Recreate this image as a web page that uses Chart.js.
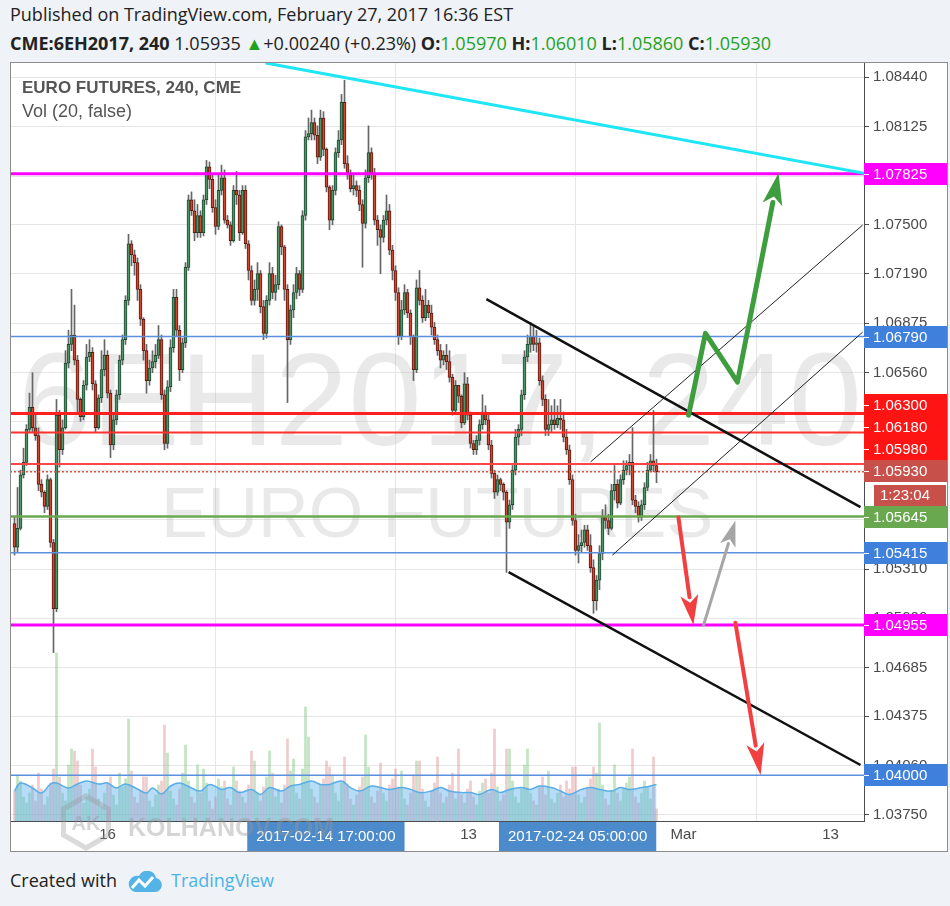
<!DOCTYPE html>
<html>
<head>
<meta charset="utf-8">
<script src="https://cdn.jsdelivr.net/npm/chart.js@4.4.0/dist/chart.umd.min.js"></script>
<style>
  html, body { margin: 0; padding: 0; width: 950px; height: 906px; overflow: hidden; background: #eff2f6; font-family: "Open Sans", Arial, sans-serif; }
  .hdr { position: absolute; left: 10px; font-size: 18px; color: #222; white-space: nowrap; }
  .g { color: #1fa21f; }
  #wrap { position: absolute; left: 10px; top: 62px; width: 938px; height: 790px; }
  #foot { position: absolute; left: 10px; top: 868px; font-size: 18px; color: #222; white-space: nowrap; }
  #foot svg { position: absolute; left: 117px; top: 3px; }
  #foot .tv { position: absolute; left: 161px; top: 0; color: #4db3e6; }
</style>
</head>
<body>
<div class="hdr" style="top:2px">Published on TradingView.com, February 27, 2017 16:36 EST</div>
<div class="hdr" style="top:31px"><b>CME:6EH2017, 240</b> 1.05935 <span class="g">&#9650;</span>+0.00240 (+0.23%) <b>O:</b><span class="g">1.05970</span> <b>H:</b><span class="g">1.06010</span> <b>L:</b><span class="g">1.05860</span> <b>C:</b><span class="g">1.05930</span></div>
<div id="wrap"><canvas id="c" width="938" height="790"></canvas></div>
<div id="foot">Created with
  <svg width="36" height="22" viewBox="0 0 36 22"><path d="M8 21 H28 a7 7 0 0 0 1 -13.9 A9 9 0 0 0 12 5 a7.5 7.5 0 0 0 -4 16z" fill="#55b4e6"/><polyline points="5,17 12,9 18,15 26,6" stroke="#fff" stroke-width="3" fill="none"/></svg>
  <span class="tv">TradingView</span></div>

<script>
// --- datos: velas 4h (open = cierre anterior) ---
const firstOpen = 1.0560;
const closes = [
  1.0545, 1.0557, 1.0591, 1.0599, 1.0620, 1.0634, 1.0621, 1.0616, 1.0585, 1.0580,
  1.0571, 1.0588, 1.0548, 1.0506, 1.0629, 1.0607, 1.0621, 1.0662, 1.0674, 1.0680,
  1.0664, 1.0639, 1.0628, 1.0648, 1.0666, 1.0669, 1.0649, 1.0621, 1.0640, 1.0658,
  1.0667, 1.0643, 1.0610, 1.0626, 1.0642, 1.0664, 1.0677, 1.0702, 1.0738, 1.0731,
  1.0726, 1.0709, 1.0690, 1.0670, 1.0651, 1.0659, 1.0663, 1.0667, 1.0677, 1.0642,
  1.0611, 1.0647, 1.0672, 1.0704, 1.0683, 1.0658, 1.0675, 1.0723, 1.0766, 1.0759,
  1.0745, 1.0756, 1.0745, 1.0766, 1.0787, 1.0779, 1.0761, 1.0749, 1.0772, 1.0780,
  1.0753, 1.0750, 1.0740, 1.0772, 1.0769, 1.0745, 1.0772, 1.0738, 1.0721, 1.0702,
  1.0709, 1.0719, 1.0698, 1.0681, 1.0702, 1.0719, 1.0707, 1.0712, 1.0749, 1.0736,
  1.0709, 1.0677, 1.0696, 1.0707, 1.0719, 1.0709, 1.0756, 1.0806, 1.0808, 1.0815,
  1.0807, 1.0793, 1.0818, 1.0798, 1.0774, 1.0753, 1.0772, 1.0796, 1.0804, 1.0828,
  1.0789, 1.0782, 1.0773, 1.0775, 1.0772, 1.0763, 1.0751, 1.0780, 1.0796, 1.0783,
  1.0753, 1.0747, 1.0742, 1.0753, 1.0759, 1.0734, 1.0721, 1.0707, 1.0679, 1.0696,
  1.0707, 1.0694, 1.0679, 1.0658, 1.0710, 1.0702, 1.0691, 1.0699, 1.0694, 1.0685,
  1.0677, 1.0670, 1.0664, 1.0667, 1.0663, 1.0653, 1.0632, 1.0648, 1.0641, 1.0624,
  1.0649, 1.0629, 1.0611, 1.0607, 1.0613, 1.0623, 1.0631, 1.0626, 1.0610, 1.0592,
  1.0580, 1.0588, 1.0585, 1.0580, 1.0561, 1.0572, 1.0594, 1.0615, 1.0620, 1.0642,
  1.0666, 1.0674, 1.0679, 1.0674, 1.0675, 1.0651, 1.0639, 1.0620, 1.0623, 1.0626,
  1.0623, 1.0627, 1.0626, 1.0615, 1.0607, 1.0588, 1.0562, 1.0543, 1.0546, 1.0548,
  1.0556, 1.0546, 1.0532, 1.0511, 1.0524, 1.0541, 1.0564, 1.0562, 1.0557, 1.0581,
  1.0585, 1.0573, 1.0588, 1.0594, 1.0597, 1.0599, 1.0575, 1.0571, 1.0564, 1.0572,
  1.0583, 1.0594, 1.0600, 1.0597, 1.0593
];
const highs = [
  1.0564, 1.0583, 1.0594, 1.0608, 1.0623, 1.0643, 1.0656, 1.0629, 1.0621, 1.0588,
  1.0581, 1.0591, 1.0589, 1.0550, 1.0639, 1.0632, 1.0626, 1.0670, 1.0683, 1.0709,
  1.0699, 1.0667, 1.0640, 1.0651, 1.0674, 1.0677, 1.0672, 1.0651, 1.0642, 1.0670,
  1.0677, 1.0670, 1.0645, 1.0629, 1.0645, 1.0667, 1.0680, 1.0705, 1.0744, 1.0740,
  1.0734, 1.0729, 1.0712, 1.0691, 1.0674, 1.0664, 1.0670, 1.0674, 1.0686, 1.0680,
  1.0645, 1.0651, 1.0677, 1.0709, 1.0709, 1.0686, 1.0678, 1.0726, 1.0769, 1.0771,
  1.0766, 1.0763, 1.0759, 1.0769, 1.0791, 1.0790, 1.0782, 1.0766, 1.0782, 1.0788,
  1.0785, 1.0756, 1.0752, 1.0775, 1.0784, 1.0772, 1.0775, 1.0775, 1.0740, 1.0724,
  1.0715, 1.0726, 1.0721, 1.0702, 1.0705, 1.0726, 1.0723, 1.0718, 1.0752, 1.0750,
  1.0737, 1.0712, 1.0699, 1.0712, 1.0723, 1.0721, 1.0759, 1.0810, 1.0818, 1.0823,
  1.0818, 1.0813, 1.0823, 1.0822, 1.0799, 1.0775, 1.0775, 1.0799, 1.0810, 1.0833,
  1.0842, 1.0794, 1.0785, 1.0782, 1.0778, 1.0775, 1.0766, 1.0785, 1.0813, 1.0799,
  1.0786, 1.0756, 1.0750, 1.0756, 1.0769, 1.0763, 1.0737, 1.0724, 1.0710, 1.0702,
  1.0712, 1.0709, 1.0696, 1.0680, 1.0715, 1.0721, 1.0705, 1.0709, 1.0702, 1.0699,
  1.0688, 1.0680, 1.0674, 1.0670, 1.0674, 1.0670, 1.0655, 1.0651, 1.0648, 1.0642,
  1.0656, 1.0653, 1.0631, 1.0613, 1.0616, 1.0626, 1.0642, 1.0635, 1.0629, 1.0613,
  1.0594, 1.0591, 1.0589, 1.0586, 1.0581, 1.0575, 1.0597, 1.0620, 1.0623, 1.0645,
  1.0670, 1.0680, 1.0688, 1.0686, 1.0683, 1.0678, 1.0654, 1.0642, 1.0639, 1.0635,
  1.0639, 1.0635, 1.0639, 1.0631, 1.0620, 1.0610, 1.0591, 1.0566, 1.0553, 1.0556,
  1.0559, 1.0559, 1.0553, 1.0537, 1.0527, 1.0546, 1.0569, 1.0572, 1.0566, 1.0585,
  1.0597, 1.0588, 1.0591, 1.0600, 1.0600, 1.0604, 1.0621, 1.0578, 1.0574, 1.0575,
  1.0586, 1.0599, 1.0604, 1.0632, 1.0601
];
const lows = [
  1.0540, 1.0542, 1.0556, 1.0589, 1.0597, 1.0618, 1.0618, 1.0613, 1.0581, 1.0577,
  1.0567, 1.0569, 1.0545, 1.0478, 1.0504, 1.0596, 1.0604, 1.0620, 1.0659, 1.0670,
  1.0661, 1.0631, 1.0625, 1.0626, 1.0645, 1.0663, 1.0645, 1.0618, 1.0620, 1.0637,
  1.0654, 1.0640, 1.0602, 1.0607, 1.0623, 1.0639, 1.0661, 1.0674, 1.0699, 1.0724,
  1.0718, 1.0702, 1.0686, 1.0664, 1.0643, 1.0648, 1.0656, 1.0659, 1.0665, 1.0639,
  1.0607, 1.0608, 1.0644, 1.0669, 1.0679, 1.0651, 1.0656, 1.0672, 1.0721, 1.0756,
  1.0740, 1.0742, 1.0742, 1.0743, 1.0763, 1.0773, 1.0758, 1.0744, 1.0747, 1.0769,
  1.0751, 1.0748, 1.0737, 1.0739, 1.0763, 1.0740, 1.0744, 1.0735, 1.0715, 1.0699,
  1.0699, 1.0702, 1.0694, 1.0677, 1.0678, 1.0699, 1.0703, 1.0702, 1.0709, 1.0731,
  1.0702, 1.0637, 1.0674, 1.0691, 1.0703, 1.0705, 1.0707, 1.0753, 1.0804, 1.0804,
  1.0804, 1.0789, 1.0791, 1.0794, 1.0771, 1.0747, 1.0750, 1.0769, 1.0793, 1.0801,
  1.0786, 1.0779, 1.0771, 1.0769, 1.0768, 1.0759, 1.0723, 1.0748, 1.0777, 1.0779,
  1.0750, 1.0737, 1.0719, 1.0739, 1.0750, 1.0731, 1.0715, 1.0702, 1.0674, 1.0677,
  1.0693, 1.0691, 1.0674, 1.0651, 1.0656, 1.0699, 1.0688, 1.0689, 1.0691, 1.0680,
  1.0674, 1.0667, 1.0659, 1.0661, 1.0658, 1.0650, 1.0629, 1.0631, 1.0637, 1.0621,
  1.0623, 1.0626, 1.0608, 1.0604, 1.0604, 1.0610, 1.0620, 1.0623, 1.0607, 1.0589,
  1.0576, 1.0578, 1.0581, 1.0575, 1.0529, 1.0557, 1.0569, 1.0591, 1.0610, 1.0616,
  1.0639, 1.0663, 1.0669, 1.0670, 1.0669, 1.0648, 1.0635, 1.0616, 1.0616, 1.0618,
  1.0620, 1.0621, 1.0620, 1.0612, 1.0604, 1.0585, 1.0559, 1.0540, 1.0535, 1.0542,
  1.0545, 1.0543, 1.0529, 1.0503, 1.0505, 1.0518, 1.0537, 1.0557, 1.0553, 1.0556,
  1.0575, 1.0570, 1.0572, 1.0585, 1.0591, 1.0591, 1.0572, 1.0567, 1.0561, 1.0562,
  1.0569, 1.0581, 1.0593, 1.0593, 1.0586
];
// volumen en miles de contratos
const volumes = [
  15, 23, 20, 12, 9, 14, 18, 10, 24, 16,
  8, 12, 19, 26, 84, 22, 14, 10, 28, 36,
  35, 30, 18, 9, 12, 16, 36, 27, 11, 7,
  14, 19, 22, 13, 8, 24, 17, 21, 51, 25,
  12, 9, 15, 22, 22, 10, 7, 13, 18, 20,
  48, 34, 15, 11, 8, 16, 24, 38, 20, 12,
  9, 28, 14, 26, 19, 10, 6, 12, 21, 17,
  20, 11, 8, 27, 20, 15, 12, 9, 18, 35,
  30, 14, 10, 17, 22, 35, 24, 12, 16, 9,
  18, 41, 25, 31, 14, 11, 26, 57, 42, 16,
  12, 9, 18, 21, 30, 27, 23, 14, 10, 19,
  32, 18, 11, 8, 13, 17, 22, 43, 27, 12,
  9, 15, 29, 14, 10, 18, 21, 26, 17, 25,
  11, 8, 14, 23, 30, 30, 16, 10, 7, 15,
  19, 32, 14, 9, 12, 18, 24, 11, 36, 13,
  9, 16, 20, 12, 8, 15, 19, 21, 14, 24,
  46, 17, 10, 13, 36, 36, 20, 12, 9, 16,
  28, 36, 14, 10, 8, 17, 22, 13, 25, 11,
  9, 14, 18, 12, 20, 16, 27, 27, 13, 9,
  12, 17, 21, 27, 24, 49, 18, 11, 8, 15,
  28, 14, 10, 16, 19, 22, 36, 12, 9, 14,
  20, 17, 11, 32, 6
];
// media de volumen (20)
const maIdx = [0, 2, 6, 9, 12, 14, 18, 21, 24, 28, 31, 34, 37, 41, 44, 46, 49, 52, 55, 59,
  62, 65, 69, 72, 75, 79, 82, 85, 89, 92, 95, 99, 102, 105, 109, 112, 115, 119, 122, 125,
  129, 132, 135, 139, 142, 145, 149, 152, 155, 159, 162, 165, 169, 172, 175, 179, 182, 185, 189, 192,
  195, 199, 202, 205, 209, 212, 214];
const maVal = [15, 19, 16.5, 14, 18.5, 19, 16.5, 18.5, 20, 18.5, 19, 16.5, 18.5, 16, 14, 16.5, 13.5, 17.5, 19, 16.5,
  15, 18.3, 15.8, 16.7, 14.2, 15.8, 13.3, 16.7, 15, 17.5, 18.3, 20, 18.3, 18.3, 20, 16.7, 15, 17.5, 16.7, 15.8,
  16.7, 15.8, 14.2, 15, 16.7, 15, 14.2, 14.2, 13.3, 15.8, 14.2, 15.8, 16.7, 15.8, 17.5, 16.7, 15, 13.3, 15.8, 16.7,
  15.8, 15, 16.7, 15.8, 16.7, 17.5, 18.3];

// ejes
const yTicks = [1.08440, 1.08125, 1.07810, 1.07500, 1.07190, 1.06875, 1.06560, 1.06250,
  1.05935, 1.05625, 1.05310, 1.05000, 1.04685, 1.04375, 1.04060, 1.03750];
const xTickIdx = [31, 103, 151.33, 223, 272];
const xTickLabels = ["16", "Feb", "13", "Mar", "13"];
const markIdx = [103.8, 187.7];
const markLabels = ["2017-02-14 17:00:00", "2017-02-24 05:00:00"];

// niveles horizontales dibujados
const levelPrices = [1.07825, 1.06790, 1.06300, 1.06180, 1.05980, 1.05645, 1.05415, 1.04955, 1.04000];
const levelStyles = [
  { c: "#ff00ff", w: 3 }, { c: "#5b8fe0", w: 1.5 }, { c: "#ff2020", w: 3 }, { c: "#ff3030", w: 2 },
  { c: "#ff4545", w: 2 }, { c: "#6aa84f", w: 2.5 }, { c: "#5b8fe0", w: 1.5 }, { c: "#ff00ff", w: 3 },
  { c: "#5b8fe0", w: 1.5 }
];
const labelColors = ["#ff00ff", "#3f80dc", "#ff1414", "#ff1414", "#ff1414", "#6aa84f", "#3f80dc", "#ff00ff", "#3f80dc"];
const countdown = "1:23:04";

// líneas de tendencia [índice de vela, precio]
const cyanLine = [[83.7, 1.0853], [283.3, 1.07828]];
const channelTop = [[157.3, 1.07028], [282, 1.05705]];
const channelBottom = [[164.7, 1.05292], [282, 1.04065]];
const riseTop = [[192, 1.05992], [282.7, 1.07499]];
const riseBottom = [[199.3, 1.0540], [282.7, 1.06818]];
// flechas
const greenPath = [[224.7, 1.0629], [230.3, 1.0681], [241, 1.0650], [254.7, 1.0783]];
const redPath1 = [[221.3, 1.0564], [226.3, 1.04955]];
const grayPath = [[229.7, 1.04955], [240.3, 1.0562]];
const redPath2 = [[240.3, 1.0497], [248.7, 1.0400]];

const opens = closes.map((c, i) => (i === 0 ? firstOpen : closes[i - 1]));
const isUp = closes.map((c, i) => c >= opens[i]);
const lastPrice = closes[closes.length - 1];

// --- plugin: dibujos tipo TradingView ---
function arrow(ctx, pts, color, width, headLen, headW) {
  const n = pts.length;
  const [ex, ey] = pts[n - 1];
  const [sx, sy] = pts[n - 2];
  const a = Math.atan2(ey - sy, ex - sx);
  const bx = ex - headLen * Math.cos(a), by = ey - headLen * Math.sin(a);
  ctx.strokeStyle = color; ctx.fillStyle = color; ctx.lineWidth = width;
  ctx.lineJoin = "round"; ctx.lineCap = "round";
  ctx.beginPath();
  ctx.moveTo(pts[0][0], pts[0][1]);
  for (let i = 1; i < n - 1; i++) ctx.lineTo(pts[i][0], pts[i][1]);
  ctx.lineTo(bx + 2 * Math.cos(a), by + 2 * Math.sin(a));
  ctx.stroke();
  ctx.beginPath();
  ctx.moveTo(ex, ey);
  ctx.lineTo(bx + headW * Math.sin(a), by - headW * Math.cos(a));
  ctx.lineTo(bx + 0.25 * headLen * Math.cos(a), by + 0.25 * headLen * Math.sin(a));
  ctx.lineTo(bx - headW * Math.sin(a), by + headW * Math.cos(a));
  ctx.closePath();
  ctx.fill();
}

const tvPlugin = {
  id: "tvDrawings",
  beforeDraw(chart) {
    const ctx = chart.ctx;
    ctx.save();
    ctx.fillStyle = "#ffffff";
    ctx.fillRect(0, 0, chart.width, chart.height);
    ctx.restore();
  },
  beforeDatasetsDraw(chart) {
    const { ctx, chartArea: a } = chart;
    ctx.save();
    ctx.beginPath(); ctx.rect(a.left, a.top, a.right - a.left, a.bottom - a.top); ctx.clip();
    ctx.fillStyle = "rgba(175,175,175,0.28)";
    ctx.textAlign = "center"; ctx.textBaseline = "alphabetic";
    ctx.font = "132px Arial";
    ctx.fillText("6EH2017, 240", (a.left + a.right) / 2 + 3, 383);
    ctx.font = "70px Arial";
    ctx.fillText("EURO FUTURES", (a.left + a.right) / 2, 475);
    ctx.restore();
  },
  afterDatasetsDraw(chart) {
    const { ctx, chartArea: a, scales } = chart;
    const px = v => scales.x.getPixelForValue(v);
    const py = v => scales.y.getPixelForValue(v);
    ctx.save();
    ctx.beginPath(); ctx.rect(a.left, a.top, a.right - a.left, a.bottom - a.top); ctx.clip();
    levelPrices.forEach((p, k) => {
      ctx.strokeStyle = levelStyles[k].c; ctx.lineWidth = levelStyles[k].w;
      ctx.beginPath(); ctx.moveTo(a.left, py(p)); ctx.lineTo(a.right, py(p)); ctx.stroke();
    });
    ctx.setLineDash([2, 2]);
    ctx.strokeStyle = "#e0503c"; ctx.lineWidth = 1.5;
    ctx.beginPath(); ctx.moveTo(a.left, py(lastPrice)); ctx.lineTo(a.right, py(lastPrice)); ctx.stroke();
    ctx.setLineDash([]);
    const seg = (pts, color, w) => {
      ctx.strokeStyle = color; ctx.lineWidth = w;
      ctx.beginPath(); ctx.moveTo(px(pts[0][0]), py(pts[0][1]));
      ctx.lineTo(px(pts[1][0]), py(pts[1][1])); ctx.stroke();
    };
    seg(cyanLine, "#1ee6f5", 3);
    seg(riseTop, "#222", 1);
    seg(riseBottom, "#222", 1);
    seg(channelTop, "#111", 2.5);
    seg(channelBottom, "#111", 2.5);
    const P = path => path.map(([i, p]) => [px(i), py(p)]);
    arrow(ctx, P(greenPath), "#3e9d3e", 5, 32, 10);
    arrow(ctx, P(redPath1), "#f24040", 4, 30, 9);
    arrow(ctx, P(grayPath), "#a6a6a6", 3, 26, 8);
    arrow(ctx, P(redPath2), "#f24040", 4, 32, 9);
    ctx.restore();
  },
  afterDraw(chart) {
    const { ctx, chartArea: a, scales } = chart;
    const py = v => scales.y.getPixelForValue(v);
    const W = chart.width;
    ctx.save();
    // etiquetas del eje de precios (empujadas hacia arriba si se solapan)
    const labels = levelPrices.map((p, k) => ({ p, c: labelColors[k], h: 22, extra: 0 }));
    labels.push({ p: lastPrice, c: "#c8504a", h: 22, extra: 24, cur: true });
    labels.sort((u, v) => u.p - v.p);
    let limit = Infinity;
    labels.forEach(l => {
      let cy = py(l.p);
      const bottom = cy + l.h / 2 + l.extra;
      if (bottom > limit) cy -= bottom - limit;
      l.cy = cy;
      limit = cy - l.h / 2;
    });
    ctx.font = "15px Arial"; ctx.textBaseline = "middle"; ctx.textAlign = "left";
    labels.forEach(l => {
      ctx.fillStyle = l.c;
      ctx.fillRect(a.right, Math.round(l.cy - l.h / 2), W - a.right, l.h);
      ctx.fillStyle = "#fff";
      ctx.fillRect(a.right, Math.round(l.cy), 5, 1);
      ctx.fillText(l.p.toFixed(5), a.right + 9, l.cy + 1);
      if (l.cur) {
        ctx.fillStyle = l.c;
        ctx.fillRect(a.right + 10, Math.round(l.cy + l.h / 2 + 3), 72, 21);
        ctx.fillStyle = "#fff";
        ctx.fillText(countdown, a.right + 16, l.cy + l.h / 2 + 14);
      }
    });
    // cajas de fecha en el eje de tiempo
    ctx.font = "15px Arial"; ctx.textAlign = "center";
    markIdx.forEach((v, k) => {
      const cx = scales.x.getPixelForValue(v);
      const w = ctx.measureText(markLabels[k]).width + 18;
      ctx.fillStyle = "#4b8acb";
      ctx.fillRect(cx - w / 2, a.bottom + 1, w, chart.height - a.bottom - 2);
      ctx.fillStyle = "#fff";
      ctx.fillText(markLabels[k], cx, a.bottom + 16);
    });
    // leyenda
    ctx.textAlign = "left"; ctx.textBaseline = "middle"; ctx.fillStyle = "#555";
    ctx.font = "bold 17px Arial";
    ctx.fillText("EURO FUTURES, 240, CME", 12, 26);
    ctx.font = "18px Arial";
    ctx.fillText("Vol (20, false)", 12, 50);
    // marca de agua inferior
    ctx.strokeStyle = "rgba(150,150,150,0.35)"; ctx.lineWidth = 5;
    ctx.beginPath();
    for (let k = 0; k < 6; k++) {
      const ang = Math.PI / 6 + k * Math.PI / 3;
      const x = 76 + 26 * Math.cos(ang), y = 760 + 26 * Math.sin(ang);
      if (k === 0) ctx.moveTo(x, y); else ctx.lineTo(x, y);
    }
    ctx.closePath(); ctx.stroke();
    ctx.fillStyle = "rgba(150,150,150,0.4)";
    ctx.font = "bold 20px Arial"; ctx.textAlign = "center";
    ctx.fillText("AK", 76, 762);
    ctx.font = "bold 25px Arial"; ctx.textAlign = "left"; ctx.textBaseline = "alphabetic";
    ctx.fillText("KOLHANOV.COM", 118, 774);
    // marco
    ctx.strokeStyle = "#8c8c8c"; ctx.lineWidth = 1;
    ctx.strokeRect(0.5, 0.5, W - 1, chart.height - 1);
    ctx.restore();
  }
};

const ctx = document.getElementById("c");
new Chart(ctx, {
  type: "bar",
  data: {
    datasets: [
      {
        label: "bodies",
        data: closes.map((c, i) => ({ x: i, y: [opens[i], c] })),
        backgroundColor: isUp.map(u => (u ? "#4a9666" : "#d2452f")),
        borderColor: isUp.map(u => (u ? "#1f4a30" : "#5c1a10")),
        borderWidth: 1,
        borderSkipped: false,
        barThickness: 3,
        minBarLength: 1,
        grouped: false,
        yAxisID: "y"
      },
      {
        label: "wicks",
        data: closes.map((c, i) => ({
          x: i,
          y: [Math.min(lows[i], opens[i], c), Math.max(highs[i], opens[i], c)]
        })),
        backgroundColor: "#666666",
        barThickness: 1,
        grouped: false,
        yAxisID: "y"
      },
      {
        type: "line",
        label: "vol ma",
        data: maIdx.map((x, k) => ({ x, y: maVal[k] })),
        yAxisID: "vol",
        fill: "origin",
        backgroundColor: "rgba(96,178,238,0.45)",
        borderColor: "#5aaee8",
        borderWidth: 1.5,
        pointRadius: 0,
        tension: 0.4
      },
      {
        label: "volume",
        data: volumes.map((v, i) => ({ x: i, y: v })),
        backgroundColor: isUp.map(u => (u ? "rgba(120,195,120,0.45)" : "rgba(220,140,140,0.45)")),
        barThickness: 2,
        grouped: false,
        yAxisID: "vol"
      }
    ]
  },
  options: {
    responsive: false,
    animation: false,
    devicePixelRatio: 1,
    layout: { padding: 0 },
    plugins: { legend: { display: false }, tooltip: { enabled: false } },
    scales: {
      x: {
        type: "linear",
        min: -1.5,
        max: 283.1667,
        offset: false,
        afterBuildTicks: s => { s.ticks = xTickIdx.map(v => ({ value: v })); },
        afterFit: s => { s.height = 31; s.paddingLeft = 0; s.paddingRight = 0; },
        ticks: {
          autoSkip: false, maxRotation: 0, padding: 5,
          color: "#4a4a4a", font: { family: "Arial", size: 15 },
          callback: (v, i) => xTickLabels[i]
        },
        grid: { color: "#e6e6e6", drawTicks: false },
        border: { color: "#4d4d4d" }
      },
      y: {
        position: "right",
        min: 1.03709,
        max: 1.08536,
        afterBuildTicks: s => { s.ticks = yTicks.map(v => ({ value: v })); },
        afterFit: s => { s.width = 84; s.paddingTop = 0; s.paddingBottom = 0; },
        ticks: {
          autoSkip: false, padding: 4,
          color: "#4a4a4a", font: { family: "Arial", size: 15 },
          callback: v => v.toFixed(5)
        },
        grid: { color: "#e6e6e6", tickColor: "#4d4d4d", tickLength: 5 },
        border: { color: "#4d4d4d" }
      },
      vol: { display: false, min: 0, max: 379.5 }
    }
  },
  plugins: [tvPlugin]
});
</script>
</body>
</html>
